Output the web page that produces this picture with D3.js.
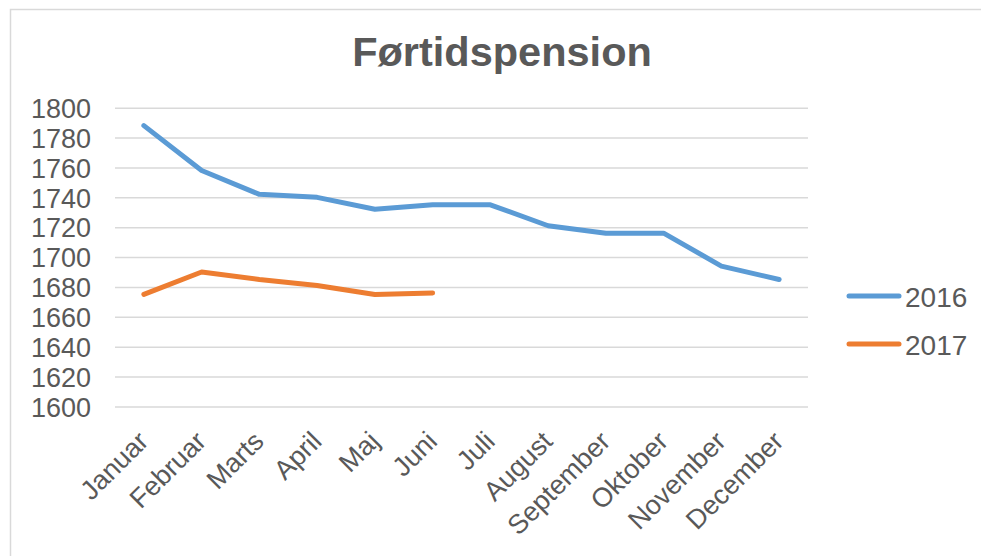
<!DOCTYPE html>
<html>
<head>
<meta charset="utf-8">
<script src="https://cdn.jsdelivr.net/npm/d3@7"></script>
<style>
    body { margin: 0; background: #fff; }
    text { font-family: "Liberation Sans", Arial, sans-serif; fill: #595959; }
</style>
</head>
<body>
<div id="chart"></div>
<script>
const width = 981;
const height = 556;

const months = ["Januar", "Februar", "Marts", "April", "Maj", "Juni",
    "Juli", "August", "September", "Oktober", "November", "December"];
const values2016 = [1788, 1758, 1742, 1740, 1732, 1735, 1735, 1721, 1716, 1716, 1694, 1685];
const values2017 = [1675, 1690, 1685, 1681, 1675, 1676];
const yTicks = [1600, 1620, 1640, 1660, 1680, 1700, 1720, 1740, 1760, 1780, 1800];
const seriesNames = ["2016", "2017"];
const seriesColors = ["#5b9bd5", "#ed7d31"];

const x = d3.scalePoint()
    .domain(months)
    .range([115, 808])
    .padding(0.5);

const y = d3.scaleLinear()
    .domain([1600, 1800])
    .range([406.5, 107.7]);

const svg = d3.select('#chart')
    .append('svg')
    .attr('width', width)
    .attr('height', height);

// chart border
svg.append('rect')
    .attr('x', 10.5)
    .attr('y', 9.5)
    .attr('width', width)
    .attr('height', height)
    .style('fill', 'none')
    .style('stroke', '#d9d9d9')
    .style('stroke-width', 1.5);

// title
svg.append('text')
    .attr('x', 502)
    .attr('y', 66)
    .attr('text-anchor', 'middle')
    .style('font-size', '41.5px')
    .style('font-weight', 'bold')
    .text('Førtidspension');

// gridlines + y labels
const yAxis = svg.append('g')
    .attr('transform', 'translate(115,0)')
    .call(d3.axisLeft(y)
        .tickValues(yTicks)
        .tickSize(-693)
        .tickPadding(24)
        .tickFormat(d3.format('d')));

yAxis.select('.domain').remove();
yAxis.selectAll('.tick line')
    .style('stroke', '#d9d9d9')
    .style('stroke-width', 1.5);
yAxis.selectAll('.tick text')
    .attr('dy', '0.36em')
    .style('font-size', '27px')
    .style('font-family', '"Liberation Sans", Arial, sans-serif')
    .style('fill', '#595959');

// month labels, rotated
svg.append('g')
    .selectAll('text')
    .data(months)
    .join('text')
    .attr('transform', d => 'translate(' + (x(d) + 6) + ',443) rotate(-45)')
    .attr('text-anchor', 'end')
    .style('font-size', '27px')
    .text(d => d);

// lines
const line = d3.line()
    .x((d, i) => x(months[i]))
    .y(d => y(d));

[values2016, values2017].forEach((vals, i) => {
    svg.append('path')
        .datum(vals)
        .attr('d', line)
        .style('fill', 'none')
        .style('stroke', seriesColors[i])
        .style('stroke-width', 5)
        .style('stroke-linejoin', 'round')
        .style('stroke-linecap', 'round');
});

// legend
const legend = svg.append('g')
    .selectAll('g')
    .data(seriesNames)
    .join('g')
    .attr('transform', (d, i) => 'translate(0,' + (296 + i * 48) + ')');

legend.append('line')
    .attr('x1', 849)
    .attr('x2', 899)
    .style('stroke', (d, i) => seriesColors[i])
    .style('stroke-width', 5)
    .style('stroke-linecap', 'round');

legend.append('text')
    .attr('x', 905)
    .attr('y', 11)
    .style('font-size', '28px')
    .text(d => d);
</script>
</body>
</html>
